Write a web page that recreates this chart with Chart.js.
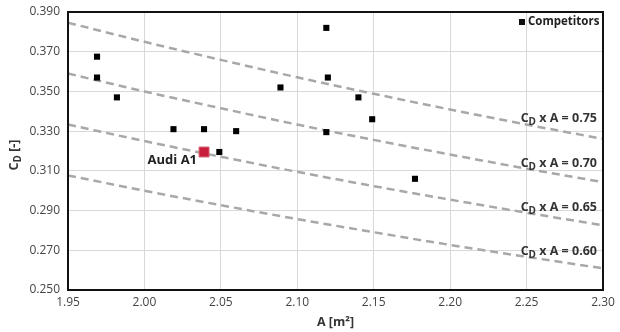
<!DOCTYPE html>
<html><head><meta charset="utf-8">
<script src="https://cdn.jsdelivr.net/npm/chart.js@4/dist/chart.umd.min.js"></script>
<style>html,body{margin:0;padding:0;background:#fff}#wrap{width:620px;height:332px}</style>
</head><body><div id="wrap"><canvas id="c" width="620" height="332"></canvas></div>
<script>
// Competitor data: frontal area A [m2] and drag coefficient CD
const compA  = [1.969, 1.969, 1.982, 2.019, 2.039, 2.049, 2.060, 2.089, 2.119, 2.120, 2.119, 2.140, 2.149, 2.177];
const compCd = [0.3675, 0.357, 0.347, 0.331, 0.331, 0.3195, 0.330, 0.352, 0.382, 0.357, 0.3295, 0.347, 0.336, 0.306];
// Audi A1
const audiA  = [2.039];
const audiCd = [0.3195];
// Iso lines CD x A = const, read at x tick positions
const isoA    = [1.95, 2.00, 2.05, 2.10, 2.15, 2.20, 2.25, 2.30];
const iso075  = [0.3846, 0.3750, 0.3659, 0.3571, 0.3488, 0.3409, 0.3333, 0.3261];
const iso070  = [0.3590, 0.3500, 0.3415, 0.3333, 0.3256, 0.3182, 0.3111, 0.3043];
const iso065  = [0.3333, 0.3250, 0.3171, 0.3095, 0.3023, 0.2955, 0.2889, 0.2826];
const iso060  = [0.3077, 0.3000, 0.2927, 0.2857, 0.2791, 0.2727, 0.2667, 0.2609];
const isoNames = ['0.75', '0.70', '0.65', '0.60'];
const isoLabelCd = [0.337, 0.3145, 0.2925, 0.2701];
// Axis ticks
const xTicks = [1.95, 2.00, 2.05, 2.10, 2.15, 2.20, 2.25, 2.30];
const yTicks = [0.250, 0.270, 0.290, 0.310, 0.330, 0.350, 0.370, 0.390];

const FONT = "'Open Sans', 'DejaVu Sans', sans-serif";
const toXY = (xs, ys) => xs.map((x, i) => ({x: x, y: ys[i]}));
const isoSets = [iso075, iso070, iso065, iso060].map((arr, i) => ({
  label: 'CD x A = ' + isoNames[i],
  data: toXY(isoA, arr),
  showLine: true,
  borderColor: '#a8a8a8',
  borderWidth: 2.5,
  borderDash: [8, 5],
  pointRadius: 0,
  cubicInterpolationMode: 'monotone',
  order: 3
}));

function drawSub(ctx, x, y, main, sub, rest, size, align) {
  ctx.save();
  ctx.textBaseline = 'alphabetic';
  ctx.textAlign = 'left';
  const f1 = 'bold ' + size + 'px ' + FONT;
  const f2 = 'bold ' + Math.round(size * 0.8) + 'px ' + FONT;
  ctx.font = f1; const w1 = ctx.measureText(main).width; const w3 = ctx.measureText(rest).width;
  ctx.font = f2; const w2 = ctx.measureText(sub).width;
  const total = w1 + w2 + w3;
  let sx = align === 'right' ? x - total : (align === 'center' ? x - total / 2 : x);
  ctx.font = f1; ctx.fillText(main, sx, y);
  ctx.font = f2; ctx.fillText(sub, sx + w1, y + size * 0.25);
  ctx.font = f1; ctx.fillText(rest, sx + w1 + w2, y);
  ctx.restore();
}

const decor = {
  id: 'decor',
  afterDraw(chart) {
    const {ctx, chartArea: a, scales: {x, y}} = chart;
    // frame
    ctx.save();
    ctx.strokeStyle = '#111'; ctx.lineWidth = 2;
    ctx.strokeRect(a.left, a.top, a.right - a.left, a.bottom - a.top);
    ctx.restore();
    // iso labels
    ctx.fillStyle = '#333';
    isoNames.forEach((n, i) => {
      drawSub(ctx, x.getPixelForValue(2.30) - 6, y.getPixelForValue(isoLabelCd[i]) + 5, 'C', 'D', ' x A = ' + n, 12.5, 'right');
    });
    // Audi label
    ctx.save();
    ctx.fillStyle = '#222';
    ctx.font = 'bold 13px ' + FONT;
    ctx.textAlign = 'right'; ctx.textBaseline = 'middle';
    ctx.fillText('Audi A1', x.getPixelForValue(audiA[0]) - 7, y.getPixelForValue(audiCd[0]) + 8);
    ctx.restore();
    // legend
    ctx.save();
    ctx.fillStyle = '#111';
    ctx.fillRect(519, 19, 6, 6);
    ctx.fillStyle = '#222';
    ctx.font = 'bold 11.5px ' + FONT;
    ctx.textAlign = 'left'; ctx.textBaseline = 'middle';
    ctx.fillText('Competitors', 528, 22);
    ctx.restore();
    // y title
    ctx.save();
    ctx.translate(18, (a.top + a.bottom) / 2 + 4);
    ctx.rotate(-Math.PI / 2);
    ctx.fillStyle = '#333';
    drawSub(ctx, 0, 0, 'C', 'D', ' [-]', 12.5, 'center');
    ctx.restore();
  }
};

new Chart(document.getElementById('c'), {
  type: 'scatter',
  data: {
    datasets: [
      {label: 'Audi A1', data: toXY(audiA, audiCd), pointStyle: 'rect', pointRadius: 7, pointHoverRadius: 7,
       backgroundColor: '#c8203c', borderColor: '#d45a6c', borderWidth: 1, order: 1},
      {label: 'Competitors', data: toXY(compA, compCd), pointStyle: 'rect', pointRadius: 4.3, pointHoverRadius: 4.3,
       backgroundColor: '#000', borderColor: '#000', borderWidth: 0, order: 2},
      ...isoSets
    ]
  },
  options: {
    responsive: false, animation: false,
    layout: {padding: {left: 0, top: 12, right: 17, bottom: 0}},
    plugins: {legend: {display: false}, tooltip: {enabled: false}},
    scales: {
      x: {
        type: 'linear', min: 1.95, max: 2.30,
        afterBuildTicks: s => { s.ticks = xTicks.map(v => ({value: v})); },
        afterFit: s => { s.height = 42; s.paddingLeft = 0; s.paddingRight = 0; },
        ticks: {callback: v => v.toFixed(2), color: '#444', font: {family: FONT, size: 12}, padding: 5, maxRotation: 0},
        grid: {color: '#d9d9d9', drawTicks: false, lineWidth: 1},
        border: {display: true, color: '#111', width: 2},
        title: {display: true, text: 'A [m²]', color: '#333', font: {family: FONT, size: 12.5, weight: 'bold'}, padding: {top: 2, bottom: 2}}
      },
      y: {
        type: 'linear', min: 0.25, max: 0.39,
        afterBuildTicks: s => { s.ticks = yTicks.map(v => ({value: v})); },
        afterFit: s => { s.width = 68; s.paddingTop = 0; s.paddingBottom = 0; },
        ticks: {callback: v => v.toFixed(3), color: '#444', font: {family: FONT, size: 12}, padding: 8},
        grid: {color: '#d9d9d9', drawTicks: false, lineWidth: 1},
        border: {display: true, color: '#111', width: 2}
      }
    }
  },
  plugins: [decor]
});
</script>
</body></html>
